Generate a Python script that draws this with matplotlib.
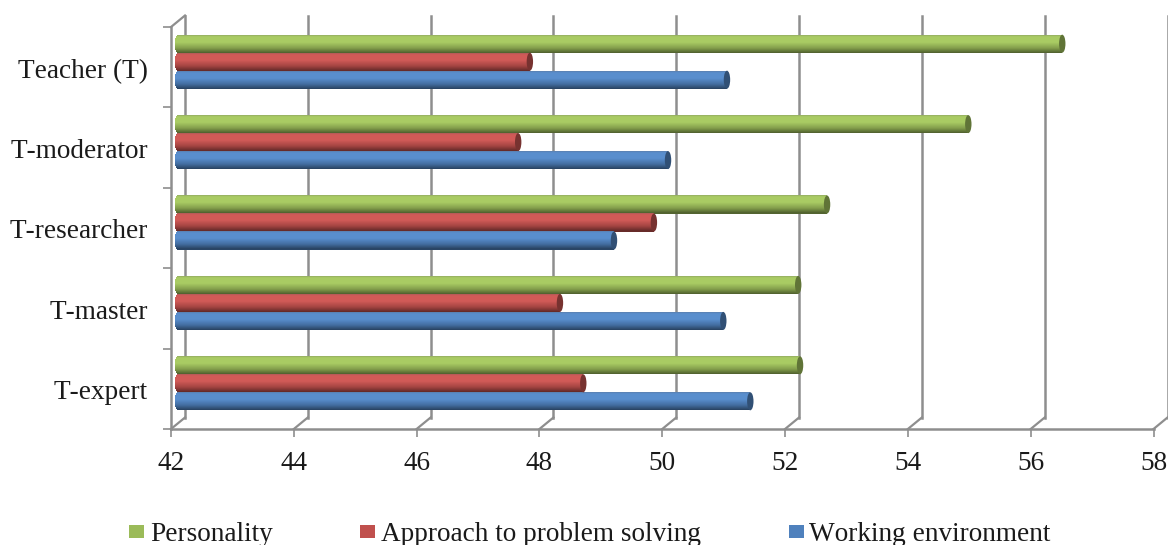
import numpy as np
import matplotlib
matplotlib.use("Agg")
import matplotlib.pyplot as plt
from matplotlib.patches import Ellipse, Rectangle
from matplotlib.colors import to_rgb
from matplotlib.transforms import Affine2D

plt.rcParams["font.family"] = ["Liberation Serif", "DejaVu Serif"]
plt.rcParams["text.kerning_factor"] = 6

categories = ["T-expert", "T-master", "T-researcher", "T-moderator", "Teacher (T)"]
series_names = ["Personality", "Approach to problem solving", "Working environment"]
personality = [52.13, 52.10, 52.57, 54.87, 56.40]
approach = [48.60, 48.22, 49.75, 47.54, 47.73]
environment = [51.32, 50.88, 49.10, 49.98, 50.94]
xticks = [42, 44, 46, 48, 50, 52, 54, 56, 58]

W, H = 1168, 545
GRIS = "#8e8e8e"
TXT = "#1a1a1a"
FS = 19.6

fig = plt.figure(figsize=(W / 100, H / 100), dpi=100)
ax = fig.add_axes([171 / W, (H - 429) / H, (1153.5 - 171) / W, (429 - 27) / H])
ax.set_xlim(42, 58)
ax.set_ylim(0, 5)

px_x = (58 - 42) / (1153.5 - 171)
px_y = 5 / (429 - 27)

# decalages pour la fausse 3D
fond = ax.transData + Affine2D().translate(14, 11.5)
milieu = ax.transData + Affine2D().translate(7, 5.5)

# grille du fond + diagonales
for t in xticks:
    ax.plot([t, t], [0, 5], color=GRIS, lw=1.8, transform=fond, clip_on=False, zorder=1)
    ax.plot([t, t + 14 * px_x], [0, 11.5 * px_y], color=GRIS, lw=1.6, clip_on=False, zorder=1)
ax.plot([42, 42 + 14 * px_x], [5, 5 + 11.5 * px_y], color=GRIS, lw=1.6, clip_on=False, zorder=1)

ax.spines["top"].set_visible(False)
ax.spines["right"].set_visible(False)
ax.spines["left"].set_color(GRIS)
ax.spines["bottom"].set_color(GRIS)
ax.spines["left"].set_linewidth(1.8)
ax.spines["bottom"].set_linewidth(1.8)

ax.set_xticks(xticks)
ax.set_xticklabels([str(t) for t in xticks], fontsize=FS, color=TXT)
ax.tick_params(axis="x", length=6, width=1.2, color=GRIS, pad=10)
ax.set_yticks(range(6))
ax.set_yticklabels([])
ax.tick_params(axis="y", which="major", length=6, width=1.2, color=GRIS)
ax.set_yticks(np.arange(5) + 0.5, minor=True)
ax.set_yticklabels(categories, minor=True, fontsize=FS, color=TXT)
ax.tick_params(axis="y", which="minor", length=0, pad=16.5)
for lab in ax.get_yticklabels(minor=True):
    lab.set_transform(lab.get_transform() + Affine2D().translate(0, -1))


def degrade(base):
    # clair en haut, sombre en bas, comme le cylindre Excel
    c = np.array(to_rgb(base))
    clair = np.minimum(c * 1.06 + 0.02, 1)
    sombre = c * 0.50
    pos = [0.0, 0.10, 0.40, 0.72, 1.0]
    cols = [c * 0.75 + 0.12, clair, clair, c * 0.85, sombre]
    return pos, cols


def cylindre(y, val, base, h):
    pos, cols = degrade(base)
    n = 18
    bande = h / n
    rx = 3.2 * px_x
    # bout droit
    e = Ellipse((val, y), 2 * rx, h, facecolor=np.array(to_rgb(base)) * 0.62,
                edgecolor="none", transform=milieu, zorder=3, clip_on=False)
    ax.add_patch(e)
    for j in range(n):
        u = (j + 0.5) / n
        col = [np.interp(u, pos, [k[i] for k in cols]) for i in range(3)]
        # bout gauche arrondi, bande par bande
        g = 42 - rx * np.sqrt(1 - (2 * u - 1) ** 2)
        barres = ax.barh(y + h / 2 - (j + 0.5) * bande, val - g, left=g,
                         height=bande * 1.05, color=[tuple(col)], zorder=2.5)
        for b in barres:
            b.set_transform(milieu)
            b.set_clip_on(False)


h_barre = 18 * px_y
couleurs = ["#9BBB59", "#C0504D", "#4F81BD"]
valeurs = [personality, approach, environment]
for k in range(3):
    for i in range(len(categories)):
        y = i + 0.5 + (1 - k) * h_barre
        cylindre(y, valeurs[k][i], couleurs[k], h_barre)

# legende, placee a la main
leg_carre = [129, 360, 789]
leg_texte = [150, 381, 809]
for k in range(3):
    fig.add_artist(Rectangle((leg_carre[k] / W, (H - 538) / H), 15 / W, 13 / H,
                             facecolor=couleurs[k], edgecolor="none",
                             transform=fig.transFigure))
    fig.text(leg_texte[k] / W, (H - 541) / H, series_names[k], fontsize=FS,
             color=TXT, va="baseline", ha="left")

fig.savefig("out.png", dpi=100, facecolor="white")
